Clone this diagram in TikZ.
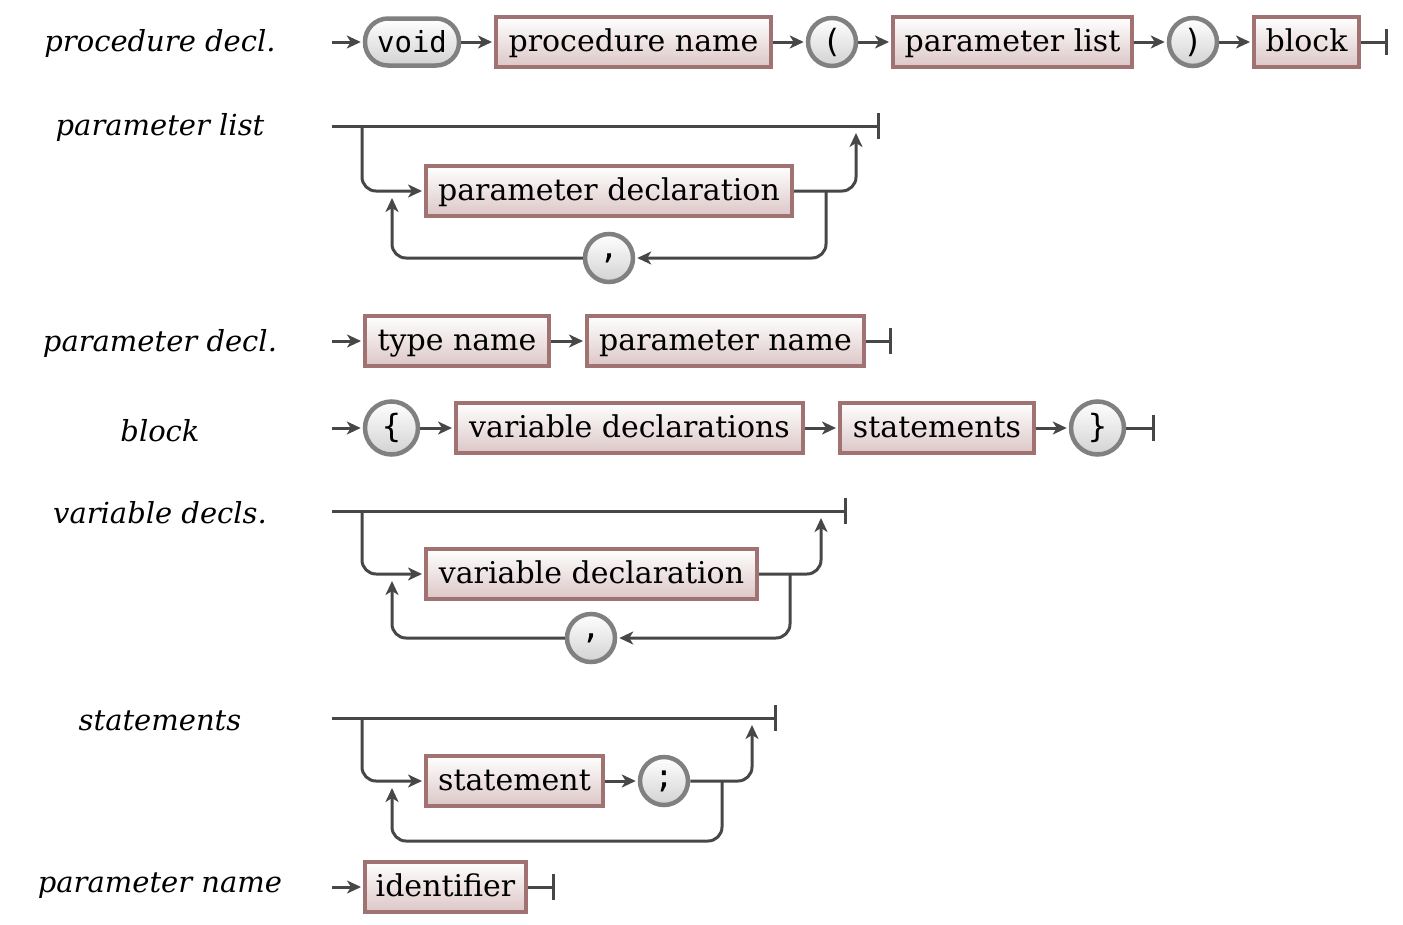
\documentclass[tikz,border=0pt]{standalone}
\usepackage{fontspec}
\setmainfont{DejaVu Serif}
\setmonofont{DejaVu Sans Mono}
\usetikzlibrary{arrows.meta}

\definecolor{ntborder}{HTML}{A07272}
\definecolor{ntfill}{HTML}{DCC6C6}
\definecolor{tborder}{HTML}{808080}
\definecolor{tfill}{HTML}{D2D2D2}
\definecolor{railgray}{HTML}{474747}

\tikzset{
  nonterminal/.style={rectangle, draw=ntborder, line width=4pt,
    top color=white, bottom color=ntfill, minimum height=50pt, inner sep=0pt,
    text height=25pt, text depth=6pt, font=\fontsize{30}{36}\selectfont},
  terminal/.style={circle, draw=tborder, line width=4.5pt,
    top color=white, bottom color=tfill, minimum size=48pt, inner sep=0pt,
    font=\ttfamily\fontsize{32}{38}\selectfont},
  keyword/.style={rectangle, rounded corners=23pt, draw=tborder, line width=4.5pt,
    top color=white, bottom color=tfill, minimum width=94pt, minimum height=47pt,
    inner sep=0pt, font=\ttfamily\fontsize{29}{35}\selectfont},
  rulename/.style={font=\itshape\fontsize{29}{35}\selectfont},
  railto/.style={draw=railgray, line width=3pt, shorten >=2pt,
    -{Stealth[length=14pt,width=13pt,inset=4pt]}},
  railend/.style={draw=railgray, line width=3pt, -{Bar[width=26pt,line width=3pt]}},
  roundbend/.style={rounded corners=14pt},
}

\begin{document}
\begin{tikzpicture}[x=1pt,y=-1pt]
\useasboundingbox (0,0) rectangle (1403,924);

% rule names
\node[rulename] (r1) at (160,43) {procedure decl.};
\node[rulename] (r2) at (160,127) {parameter list};
\node[rulename] (r3) at (160,343) {parameter decl.};
\node[rulename] (r4) at (160,431) {block};
\node[rulename] (r5) at (160,513) {variable decls.};
\node[rulename] (r6) at (160,721) {statements};
\node[rulename] (r7) at (160,886) {parameter name};

% procedure decl.
\coordinate (pd-in) at (332,42);
\node[keyword] (void) at (412,42) {void};
\node[nonterminal, minimum width=275pt] (pname) at (633.5,42) {procedure name};
\node[terminal] (lpar) at (832,42) {(};
\node[nonterminal, minimum width=239pt] (plist) at (1012.5,42) {parameter list};
\node[terminal] (rpar) at (1193,42) {)};
\node[nonterminal, minimum width=105pt] (blk) at (1306.5,42) {block};
\coordinate (pd-out) at (1388,42);
\draw[railto] (pd-in) -- (void);
\draw[railto] (void) -- (pname);
\draw[railto] (pname) -- (lpar);
\draw[railto] (lpar) -- (plist);
\draw[railto] (plist) -- (rpar);
\draw[railto] (rpar) -- (blk);
\draw[railend] (blk) -- (pd-out);

% parameter list
\coordinate (pl-in) at (332,126);
\coordinate (pl-out) at (880,126);
\coordinate (pl-split) at (362,126);
\node[nonterminal, minimum width=366pt] (pdecl) at (609,191) {parameter declaration};
\node[terminal] (comma1) at (609,258) {,};
\coordinate (pl-up) at (856,131);
\coordinate (pl-tap) at (826,191);
\coordinate (pl-back) at (392,196);
\draw[railend] (pl-in) -- (pl-out);
\draw[railto, roundbend] (pl-split) |- (pdecl);
\draw[railto, roundbend] (pdecl) -| (pl-up);
\draw[railto, roundbend] (pl-tap) |- (comma1);
\draw[railto, roundbend] (comma1) -| (pl-back);

% parameter decl.
\coordinate (pdl-in) at (332,341);
\node[nonterminal, minimum width=184pt] (tname) at (457,341) {type name};
\node[nonterminal, minimum width=277pt] (parname) at (725.5,341) {parameter name};
\coordinate (pdl-out) at (892,341);
\draw[railto] (pdl-in) -- (tname);
\draw[railto] (tname) -- (parname);
\draw[railend] (parname) -- (pdl-out);

% block
\coordinate (bl-in) at (332,428);
\node[terminal, minimum size=53pt] (lbrace) at (391.5,428) {\{};
\node[nonterminal, minimum width=347pt] (vdecls) at (629.5,428) {variable declarations};
\node[nonterminal, minimum width=194pt] (stmts) at (937,428) {statements};
\node[terminal, minimum size=53pt] (rbrace) at (1097.5,428) {\}};
\coordinate (bl-out) at (1155,428);
\draw[railto] (bl-in) -- (lbrace);
\draw[railto] (lbrace) -- (vdecls);
\draw[railto] (vdecls) -- (stmts);
\draw[railto] (stmts) -- (rbrace);
\draw[railend] (rbrace) -- (bl-out);

% variable decls.
\coordinate (vd-in) at (332,511);
\coordinate (vd-out) at (847,511);
\coordinate (vd-split) at (362,511);
\node[nonterminal, minimum width=331pt] (vdecl) at (591.5,574) {variable declaration};
\node[terminal] (comma2) at (591,638) {,};
\coordinate (vd-up) at (821,516);
\coordinate (vd-tap) at (790,574);
\coordinate (vd-back) at (392,579);
\draw[railend] (vd-in) -- (vd-out);
\draw[railto, roundbend] (vd-split) |- (vdecl);
\draw[railto, roundbend] (vdecl) -| (vd-up);
\draw[railto, roundbend] (vd-tap) |- (comma2);
\draw[railto, roundbend] (comma2) -| (vd-back);

% statements
\coordinate (st-in) at (332,718);
\coordinate (st-out) at (777,718);
\coordinate (st-split) at (362,718);
\node[nonterminal, minimum width=177pt] (stmt) at (514.5,781) {statement};
\node[terminal] (semi) at (664,781) {;};
\coordinate (st-up) at (752,723);
\coordinate (st-tap) at (722,781);
\coordinate (st-corner) at (392,841);
\coordinate (st-back) at (392,786);
\draw[railend] (st-in) -- (st-out);
\draw[railto, roundbend] (st-split) |- (stmt);
\draw[railto] (stmt) -- (semi);
\draw[railto, roundbend] (semi) -| (st-up);
\draw[railto, roundbend] (st-tap) |- (st-corner) -- (st-back);

% parameter name
\coordinate (pn-in) at (332,887);
\node[nonterminal, minimum width=161pt] (ident) at (445.5,887) {identifier};
\coordinate (pn-out) at (555,887);
\draw[railto] (pn-in) -- (ident);
\draw[railend] (ident) -- (pn-out);
\end{tikzpicture}
\end{document}
